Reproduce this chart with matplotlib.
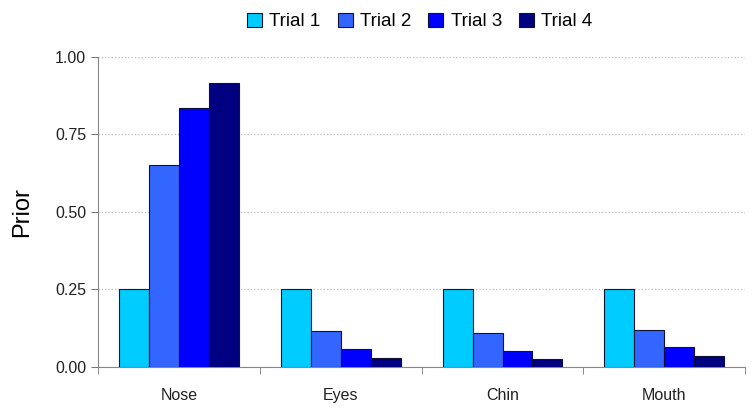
import numpy as np
import matplotlib
matplotlib.use("Agg")
import matplotlib.pyplot as plt

plt.rcParams['font.family'] = ['Liberation Sans', 'DejaVu Sans']

# Datos
categorias = ["Nose", "Eyes", "Chin", "Mouth"]
series = ["Trial 1", "Trial 2", "Trial 3", "Trial 4"]
trial1 = [0.25, 0.25, 0.25, 0.25]
trial2 = [0.652, 0.116, 0.110, 0.120]
trial3 = [0.834, 0.058, 0.051, 0.064]
trial4 = [0.917, 0.030, 0.026, 0.034]
valores = [trial1, trial2, trial3, trial4]
colores = ["#00CCFF", "#3366FF", "#0000FF", "#000080"]

fig = plt.figure(figsize=(7.55, 4.09), dpi=100)
ax = fig.add_axes([0.130, 0.103, 0.857, 0.758])

x = np.arange(len(categorias))
ancho = 0.185
for i in range(len(series)):
    ax.bar(x + (i - 1.5) * ancho, valores[i], width=ancho, color=colores[i],
           edgecolor="#111133", linewidth=0.8, label=series[i], zorder=3)

ax.set_xlim(-0.5, len(categorias) - 0.5)
ax.set_ylim(0, 1.0)
ax.set_yticks([0, 0.25, 0.5, 0.75, 1.0])
ax.set_yticklabels(["0.00", "0.25", "0.50", "0.75", "1.00"], fontsize=11.5, color="#222222")
ax.set_xticks(x)
ax.set_xticklabels(categorias, fontsize=11.5, color="#222222")
ax.tick_params(axis="x", length=0, pad=15)
ax.set_xticks(np.arange(len(categorias) + 1) - 0.5, minor=True)
ax.tick_params(axis="x", which="minor", length=5, color="#777777")
ax.tick_params(axis="y", length=5, color="#777777", direction="out")

ax.yaxis.grid(True, linestyle=":", color="#bbbbbb", linewidth=0.9, zorder=0)
ax.set_axisbelow(True)
for s in ["top", "right"]:
    ax.spines[s].set_visible(False)
for s in ["left", "bottom"]:
    ax.spines[s].set_color("#888888")

ax.set_ylabel("Prior", fontsize=17, labelpad=16)

fig.legend(loc="upper center", bbox_to_anchor=(0.556, 1.01), ncol=4, frameon=False,
           fontsize=13.5, handlelength=0.8, handleheight=0.8, handletextpad=0.4,
           columnspacing=0.9)

fig.savefig("out.png", dpi=100)
